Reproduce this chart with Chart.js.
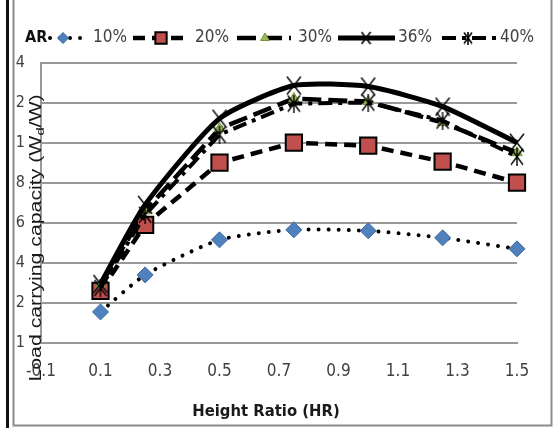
<!DOCTYPE html>
<html><head><meta charset="utf-8">
<script src="https://cdn.jsdelivr.net/npm/chart.js@4.4.1/dist/chart.umd.min.js"></script>
<style>html,body{margin:0;padding:0;background:#fff;}canvas{display:block;}</style>
</head><body>
<canvas id="c" width="560" height="428"></canvas>
<script>
// ---- data ----
const heightRatio = [0.1, 0.25, 0.5, 0.75, 1.0, 1.25, 1.5];
const ar10 = [1.55, 3.4, 5.15, 5.65, 5.6, 5.25, 4.7];
const ar20 = [2.6, 5.9, 9.0, 10.0, 9.85, 9.05, 8.0];
const ar30 = [2.9, 6.6, 10.7, 12.2, 12.05, 11.0, 9.5];
const ar36 = [2.95, 6.9, 11.2, 12.85, 12.8, 11.8, 10.0];
const ar40 = [2.75, 6.4, 10.4, 11.95, 12.0, 11.1, 9.3];
const seriesNames = ['10%', '20%', '30%', '36%', '40%'];
const legendTitle = 'AR';
const xTickValues = [-0.1, 0.1, 0.3, 0.5, 0.7, 0.9, 1.1, 1.3, 1.5];
const yTickValues = [0, 2, 4, 6, 8, 10, 12, 14];
const yTickLabels = ['1', '2', '4', '6', '8', '1', '2', '4'];
const xTitle = 'Height Ratio (HR)';
const yTitleParts = ['Load carrying capacity (W', 'd', '/W)'];

const FONT = "'Liberation Sans Narrow','Arial Narrow','DejaVu Sans Condensed',sans-serif";
const TXT = '#404040';

function markCanvas(w, h, vertical, lw) {
  const c = document.createElement('canvas');
  c.width = w; c.height = h;
  const g = c.getContext('2d');
  g.strokeStyle = '#000'; g.lineWidth = lw;
  g.beginPath();
  g.moveTo(1, 1); g.lineTo(w - 1, h - 1);
  g.moveTo(w - 1, 1); g.lineTo(1, h - 1);
  if (vertical) { g.moveTo(w / 2, 0); g.lineTo(w / 2, h); }
  g.stroke();
  return c;
}
const xMark = markCanvas(16, 20, false, 1.4);
const starMark = markCanvas(14, 18, true, 1.4);
const xMarkSmall = markCanvas(11, 14, false, 1.6);
const starMarkSmall = markCanvas(10, 13, true, 1.6);

function pts(arr) { return heightRatio.map((x, i) => ({ x: x, y: arr[i] })); }

const dashes = [[0.01, 10], [12, 7], [19, 7], [], [14, 6, 4, 6]];
const tens = [0.2, 0, 0, 0.2, 0];
const caps = ['round', 'butt', 'butt', 'butt', 'butt'];

const datasets = [
  { label: seriesNames[0], data: pts(ar10), borderColor: '#000', borderWidth: 4,
    pointStyle: 'rectRot', pointRadius: 8, pointBackgroundColor: '#4F81BD', pointBorderColor: '#3d6a9e', pointBorderWidth: 1, order: 5,
    legendStyle: 'rectRot', legendRadius: 5.5 },
  { label: seriesNames[1], data: pts(ar20), borderColor: '#000', borderWidth: 4.5,
    pointStyle: 'rect', pointRadius: 11.5, pointBackgroundColor: '#C0504D', pointBorderColor: '#000', pointBorderWidth: 2, order: 4,
    legendStyle: 'rect', legendRadius: 8 },
  { label: seriesNames[2], data: pts(ar30), borderColor: '#000', borderWidth: 4.5,
    pointStyle: 'triangle', pointRadius: 6, pointBackgroundColor: '#9BBB59', pointBorderColor: '#76923c', pointBorderWidth: 1, order: 3,
    legendStyle: 'triangle', legendRadius: 5 },
  { label: seriesNames[3], data: pts(ar36), borderColor: '#000', borderWidth: 5,
    pointStyle: xMark, pointRadius: 8, pointBackgroundColor: '#000', pointBorderColor: '#000', pointBorderWidth: 1, order: 2,
    legendStyle: xMarkSmall, legendRadius: 6 },
  { label: seriesNames[4], data: pts(ar40), borderColor: '#000', borderWidth: 4,
    pointStyle: starMark, pointRadius: 8, pointBackgroundColor: '#000', pointBorderColor: '#000', pointBorderWidth: 1, order: 1,
    legendStyle: starMarkSmall, legendRadius: 6 }
].map((d, i) => Object.assign({ tension: tens[i], fill: false, clip: false, showLine: true,
    borderDash: dashes[i], borderCapStyle: caps[i] }, d));

const bgPlugin = { id: 'bg', beforeDraw(chart) {
  const ctx = chart.ctx; ctx.save(); ctx.fillStyle = '#fff'; ctx.fillRect(0, 0, chart.width, chart.height); ctx.restore();
} };

const legendPos = [
  { x0: 50, x1: 84, mx: 63, tx: 93 },
  { x0: 133, x1: 188, mx: 161, tx: 195 },
  { x0: 237, x1: 291, mx: 265, tx: 298 },
  { x0: 338, x1: 395, mx: 366, tx: 398 },
  { x0: 442, x1: 497, mx: 468, tx: 500 }
];

const decorPlugin = { id: 'decor', afterDraw(chart) {
  const ctx = chart.ctx;
  ctx.save();
  ctx.strokeStyle = '#111'; ctx.lineWidth = 3;
  ctx.beginPath(); ctx.moveTo(7.5, 0); ctx.lineTo(7.5, 428); ctx.stroke();
  ctx.strokeStyle = '#8c8c8c'; ctx.lineWidth = 2;
  ctx.beginPath(); ctx.moveTo(13.5, 0); ctx.lineTo(13.5, 425.5); ctx.lineTo(551.5, 425.5); ctx.lineTo(551.5, 0); ctx.stroke();

  ctx.save();
  ctx.translate(37, 238);
  ctx.rotate(-Math.PI / 2);
  ctx.scale(1.33, 1);
  ctx.fillStyle = '#1a1a1a';
  const fMain = "16px 'Liberation Sans','Arial',sans-serif";
  const fSub = "11px 'Liberation Sans','Arial',sans-serif";
  ctx.font = fMain; const w0 = ctx.measureText(yTitleParts[0]).width; const w2 = ctx.measureText(yTitleParts[2]).width;
  ctx.font = fSub; const w1 = ctx.measureText(yTitleParts[1]).width;
  const total = w0 + w1 + w2;
  let x = -total / 2;
  ctx.textBaseline = 'middle'; ctx.textAlign = 'left';
  ctx.font = fMain; ctx.fillText(yTitleParts[0], x, 0); x += w0;
  ctx.font = fSub; ctx.fillText(yTitleParts[1], x, 4); x += w1;
  ctx.font = fMain; ctx.fillText(yTitleParts[2], x, 0);
  ctx.restore();

  ctx.fillStyle = '#1a1a1a';
  ctx.font = "bold 16.5px " + FONT;
  ctx.textAlign = 'center'; ctx.textBaseline = 'alphabetic';
  ctx.fillText(xTitle, 266, 416);

  ctx.font = "bold 16px " + FONT;
  ctx.textAlign = 'left'; ctx.textBaseline = 'middle';
  ctx.fillStyle = '#111';
  ctx.fillText(legendTitle, 25, 38);
  const ly = 38;
  chart.data.datasets.forEach((ds, i) => {
    const p = legendPos[i];
    ctx.save();
    ctx.strokeStyle = ds.borderColor; ctx.lineWidth = ds.borderWidth;
    ctx.setLineDash(dashes[i]); ctx.lineCap = caps[i];
    ctx.beginPath(); ctx.moveTo(p.x0, ly); ctx.lineTo(p.x1, ly); ctx.stroke();
    ctx.setLineDash([]); ctx.lineCap = 'butt';
    ctx.fillStyle = ds.pointBackgroundColor; ctx.strokeStyle = ds.pointBorderColor; ctx.lineWidth = ds.pointBorderWidth;
    Chart.helpers.drawPoint(ctx, { pointStyle: ds.legendStyle, rotation: 0, radius: ds.legendRadius, borderWidth: ds.pointBorderWidth }, p.mx, ly);
    ctx.restore();
    ctx.fillStyle = TXT; ctx.font = "17px " + FONT;
    ctx.fillText(ds.label, p.tx, ly);
  });
  ctx.restore();
} };

new Chart(document.getElementById('c'), {
  type: 'line',
  data: { datasets: datasets },
  options: {
    responsive: false, animation: false, devicePixelRatio: 1,
    layout: { padding: { left: 0, right: 43, top: 62.5, bottom: 0 } },
    plugins: { legend: { display: false }, tooltip: { enabled: false } },
    scales: {
      x: { type: 'linear', min: -0.1, max: 1.5,
        afterBuildTicks: s => { s.ticks = xTickValues.map(v => ({ value: v })); },
        afterFit: s => { s.height = 85; },
        grid: { display: false, drawTicks: false },
        border: { display: true, color: '#999', width: 2 },
        ticks: { padding: 18, color: TXT, autoSkip: false, maxRotation: 0, font: { family: FONT, size: 17 },
          callback: (v, i) => xTickValues[i].toFixed(1) } },
      y: { type: 'linear', min: 0, max: 14,
        afterBuildTicks: s => { s.ticks = yTickValues.map(v => ({ value: v })); },
        afterFit: s => { s.width = 41; },
        grid: { color: '#999', lineWidth: 2, drawTicks: false },
        border: { display: true, color: '#999', width: 2 },
        ticks: { padding: 16, color: TXT, font: { family: FONT, size: 16 },
          callback: (v, i) => yTickLabels[i] } }
    }
  },
  plugins: [bgPlugin, decorPlugin]
});
</script>
</body></html>
